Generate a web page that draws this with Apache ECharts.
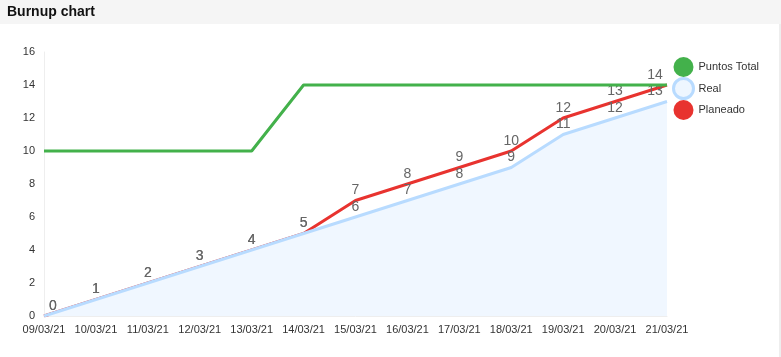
<!DOCTYPE html>
<html><head><meta charset="utf-8">
<script src="https://cdn.jsdelivr.net/npm/echarts@6/dist/echarts.min.js"></script>
<style>html,body{margin:0;padding:0;background:#fff;}#c{width:781px;height:357px;}</style>
</head><body><div id="c"></div>
<script>
const categories = ['09/03/21','10/03/21','11/03/21','12/03/21','13/03/21','14/03/21','15/03/21','16/03/21','17/03/21','18/03/21','19/03/21','20/03/21','21/03/21'];
const puntosTotal = [10,10,10,10,10,14,14,14,14,14,14,14,14];
const real = [0,1,2,3,4,5,6,7,8,9,11,12,13];
const planeado = [0,1,2,3,4,5,7,8,9,10,12,13,14];
const yTicks = [0,2,4,6,8,10,12,14,16];

function withLabelOffsets(arr){
  return arr.map((v,i)=>{
    if(i===0) return {value:v,label:{offset:[9,0]}};
    if(i===arr.length-1) return {value:v,label:{offset:[-12,0]}};
    return v;
  });
}
const chart = echarts.init(document.getElementById('c'));
const lbl = {show:true,position:'top',distance:3,color:'#666',fontSize:14,fontFamily:'Liberation Sans, Arial, sans-serif'};
chart.setOption({
  animation:false,
  textStyle:{fontFamily:'Liberation Sans, Arial, sans-serif'},
  graphic:[
    {type:'rect',shape:{x:0,y:0,width:781,height:24},style:{fill:'#f5f5f5'},z:-1},
    {type:'rect',shape:{x:779,y:24,width:2,height:333},style:{fill:'#eeeeee'},z:-1},
    {type:'text',left:7,top:5,style:{text:'Burnup chart',font:'bold 14px Liberation Sans, Arial, sans-serif',fill:'#111'}}
  ],
  legend:{
    orient:'vertical',left:672,top:57,itemGap:0,itemWidth:20,itemHeight:20,icon:'circle',padding:0,
    textStyle:{fontSize:11,color:'#333',padding:[0,0,0,0]},
    data:[
      {name:'Puntos Total',itemStyle:{color:'#43b14b',borderWidth:0}},
      {name:'Real',itemStyle:{color:'#eef6ff',borderColor:'#b8dbff',borderWidth:3}},
      {name:'Planeado',itemStyle:{color:'#e8332f',borderWidth:0}}
    ]
  },
  grid:{left:44,top:52,width:623,height:264},
  xAxis:{type:'category',data:categories,boundaryGap:false,
    axisLine:{show:true,lineStyle:{color:'#eeeeee'}},axisTick:{show:false},
    axisLabel:{color:'#333',fontSize:11,margin:8,interval:0}},
  yAxis:{type:'value',min:0,max:16,interval:2,
    axisLine:{show:true,lineStyle:{color:'#eeeeee'}},axisTick:{show:false},splitLine:{show:false},
    axisLabel:{color:'#333',fontSize:11,margin:9,formatter:v=>yTicks.includes(v)?String(v):''}},
  series:[
    {name:'Puntos Total',type:'line',data:puntosTotal,symbol:'none',lineStyle:{color:'#43b14b',width:3},itemStyle:{color:'#43b14b'},z:3},
    {name:'Real',type:'line',data:withLabelOffsets(real),symbol:'circle',symbolSize:0,showSymbol:true,lineStyle:{color:'#b8dbff',width:3},itemStyle:{color:'#b8dbff'},
      areaStyle:{color:'#f0f7ff',opacity:1},label:lbl,z:2},
    {name:'Planeado',type:'line',data:withLabelOffsets(planeado),symbol:'circle',symbolSize:0,showSymbol:true,lineStyle:{color:'#e8332f',width:3},itemStyle:{color:'#e8332f'},label:lbl,z:1}
  ]
});
</script></body></html>
